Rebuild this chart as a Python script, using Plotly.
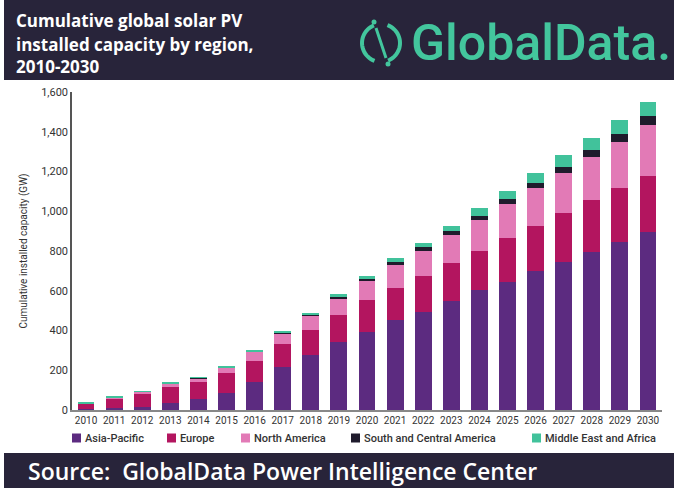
import math

import plotly.graph_objects as go

W, H = 678, 488
L, R, T, B = 72, 16, 92, 78

YEARS = [str(y) for y in range(2010, 2031)]
ASIA_PACIFIC = [4, 9, 15, 34, 54, 87, 139, 218, 277, 344, 394, 453, 495, 548, 604, 645, 701, 743, 793, 847, 897]
EUROPE = [29, 51, 68, 84, 88, 98, 106, 112, 125, 134, 159, 159, 179, 190, 197, 219, 226, 246, 263, 268, 280]
NORTH_AMERICA = [2, 5, 9, 14, 18, 28, 47, 56, 72, 85, 94, 116, 127, 142, 155, 172, 188, 205, 218, 235, 257]
SOUTH_CENTRAL_AMERICA = [0.1, 0.2, 0.5, 1, 1, 2, 2, 3, 7, 8, 13, 15, 17, 20, 21, 24, 25, 30, 34, 37, 43]
MIDDLE_EAST_AFRICA = [2, 2, 3, 4, 5, 8, 5, 7, 8, 14, 16, 20, 24, 27, 40, 43, 50, 57, 59, 74, 74]

SERIES = [
    ("Asia-Pacific", ASIA_PACIFIC, "#5c2b80"),
    ("Europe", EUROPE, "#b3155f"),
    ("North America", NORTH_AMERICA, "#e27ab6"),
    ("South and Central America", SOUTH_CENTRAL_AMERICA, "#1f1b2c"),
    ("Middle East and Africa", MIDDLE_EAST_AFRICA, "#41c29b"),
]
LEGEND_X = [72, 167, 241, 351, 532]

TITLE_LINES = ["Cumulative global solar PV", "installed capacity by region,", "2010-2030"]
SOURCE = "Source:  GlobalData Power Intelligence Center"

BAND = "#28243a"
GREEN = "#43c69d"
FONT = "Roboto"
HEAD_FONT = "Open Sans"


def px(x):
    return (x - L) / (W - L - R)


def py(y):
    return (H - B - y) / (H - T - B)


fig = go.Figure()
for name, vals, color in SERIES:
    fig.add_trace(go.Bar(x=YEARS, y=vals, name=name, marker=dict(color=color, line=dict(width=0))))

shapes = [
    dict(type="rect", xref="paper", yref="paper", x0=px(4), x1=px(674), y0=py(0), y1=py(80),
         fillcolor=BAND, line=dict(width=0), layer="below"),
    dict(type="rect", xref="paper", yref="paper", x0=px(4), x1=px(674), y0=py(453), y1=py(488),
         fillcolor=BAND, line=dict(width=0), layer="below"),
]

# logo icon: two arcs with a slanted stroke through the gaps
cx, cy, rad = 381, 43, 19
for a0, a1 in [(112, 250), (-68, 70)]:
    pts = []
    for i in range(25):
        a = math.radians(a0 + (a1 - a0) * i / 24)
        pts.append((px(cx + rad * math.cos(a)), py(cy - rad * math.sin(a))))
    path = "M " + " L ".join(f"{x:.5f},{y:.5f}" for x, y in pts)
    shapes.append(dict(type="path", xref="paper", yref="paper", path=path,
                       line=dict(color=GREEN, width=4)))
shapes.append(dict(type="line", xref="paper", yref="paper", x0=px(376), y0=py(28), x1=px(386), y1=py(58),
                   line=dict(color=GREEN, width=3)))
for dx, dy in [(374, 22), (388, 64)]:
    shapes.append(dict(type="circle", xref="paper", yref="paper", x0=px(dx - 2.5), x1=px(dx + 2.5),
                       y0=py(dy - 2.5), y1=py(dy + 2.5), fillcolor=GREEN, line=dict(width=0)))

annotations = []
for i, line in enumerate(TITLE_LINES):
    annotations.append(dict(text=line, xref="paper", yref="paper", x=px(14), y=py(21 + 23 * i),
                            xanchor="left", yanchor="middle", showarrow=False,
                            font=dict(family=HEAD_FONT, size=17, color="white", weight="bold")))
annotations.append(dict(text="GlobalData.", xref="paper", yref="paper", x=px(409), y=py(43),
                        xanchor="left", yanchor="middle", showarrow=False,
                        font=dict(family=FONT, size=50, color=GREEN, weight=500)))
annotations.append(dict(text=SOURCE, xref="paper", yref="paper", x=px(26), y=py(471),
                        xanchor="left", yanchor="middle", showarrow=False,
                        font=dict(family=HEAD_FONT, size=23, color="white", weight=600)))

for (name, _, color), lx in zip(SERIES, LEGEND_X):
    shapes.append(dict(type="rect", xref="paper", yref="paper", x0=px(lx), x1=px(lx + 9),
                       y0=py(433.5), y1=py(442.5), fillcolor=color, line=dict(width=0)))
    annotations.append(dict(text=name, xref="paper", yref="paper", x=px(lx + 11), y=py(438),
                            xanchor="left", yanchor="middle", showarrow=False,
                            font=dict(family=FONT, size=11, color="#333333", weight=500)))

fig.update_layout(
    width=W, height=H,
    margin=dict(l=L, r=R, t=T, b=B),
    barmode="stack",
    bargap=0.4,
    showlegend=False,
    plot_bgcolor="white",
    paper_bgcolor="white",
    font=dict(family=FONT, color="#333333"),
    shapes=shapes,
    annotations=annotations,
    xaxis=dict(showgrid=False, showline=True, linecolor="#888888", linewidth=1.5,
               ticks="", tickfont=dict(size=10, color="#333333"), range=[-0.5, 20.5]),
    yaxis=dict(range=[0, 1600], dtick=200, tickformat=",", showgrid=False, zeroline=False,
               showline=True, linecolor="#555555", linewidth=1.5, ticks="",
               tickfont=dict(size=11, color="#333333"),
               title=dict(text="Cumulative installed capacity (GW)", font=dict(size=10, color="#333333"),
                          standoff=12)),
)

fig.write_html("out.html", config={"displayModeBar": False},
               post_script="document.body.style.margin='0';")
